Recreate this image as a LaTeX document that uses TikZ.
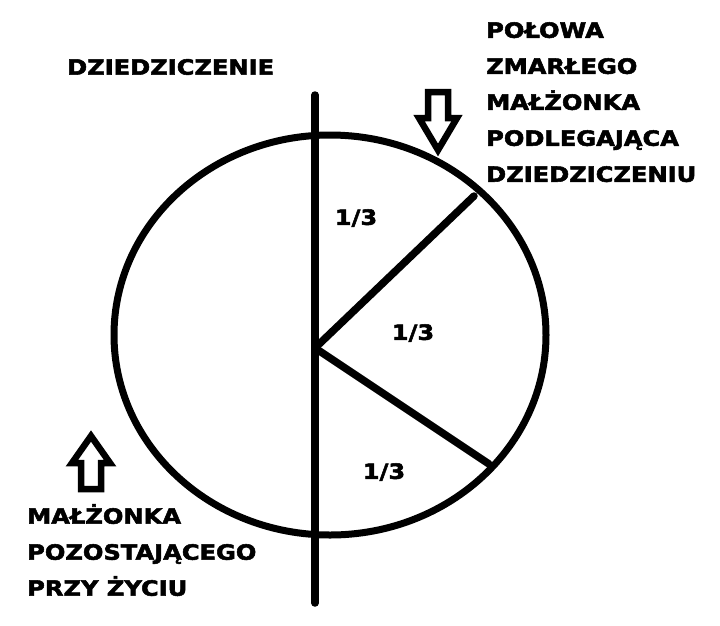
\documentclass[tikz,border=0pt]{standalone}
\usepackage{fontspec}
\setmainfont{DejaVu Sans}
\newfontfamily\heavyfont[FakeStretch=1.15,FakeBold=2.5]{DejaVu Sans Bold}
\begin{document}
\begin{tikzpicture}[x=1pt,y=-1pt,
  thick line/.style={line width=7.5pt, line cap=round},
  lbl/.style={font=\heavyfont\fontsize{21}{36}\selectfont, inner sep=0pt, anchor=west, align=left},
  frac/.style={font=\heavyfont\fontsize{21}{24}\selectfont, inner sep=0pt},
  blockarrow/.style={line width=6.5pt, line join=miter}]
\useasboundingbox (0,0) rectangle (720,625);
% circle
\draw[line width=7pt] (330,335) ellipse [x radius=216, y radius=200];
% vertical divider and spokes
\coordinate (vtop) at (315,95);
\coordinate (vbot) at (315,603);
\coordinate (hub) at (315,348);
\coordinate (s1) at (474,196);
\coordinate (s2) at (489,464);
\draw[thick line] (vtop) -- (vbot);
\draw[thick line] (hub) -- (s1);
\draw[thick line] (hub) -- (s2);
% fractions
\node[frac] (f1) at (356,218) {1/3};
\node[frac] (f2) at (413,333) {1/3};
\node[frac] (f3) at (384,472) {1/3};
% labels
\node[lbl] (title) at (67,67) {DZIEDZICZENIE};
\node[lbl, anchor=north west] (right) at (486,22) {POŁOWA\\ZMARŁEGO\\MAŁŻONKA\\PODLEGAJĄCA\\DZIEDZICZENIU};
\node[lbl, anchor=north west] (left) at (27,504) {MAŁŻONKA\\POZOSTAJĄCEGO\\PRZY ŻYCIU};
% down arrow
\draw[blockarrow] (428,92) -- (448,92) -- (448,118) -- (457,118) -- (438,150) -- (419,118) -- (428,118) -- cycle;
% up arrow
\draw[blockarrow] (81,489) -- (101,489) -- (101,463) -- (110,463) -- (91,436) -- (72,463) -- (81,463) -- cycle;
\end{tikzpicture}
\end{document}
